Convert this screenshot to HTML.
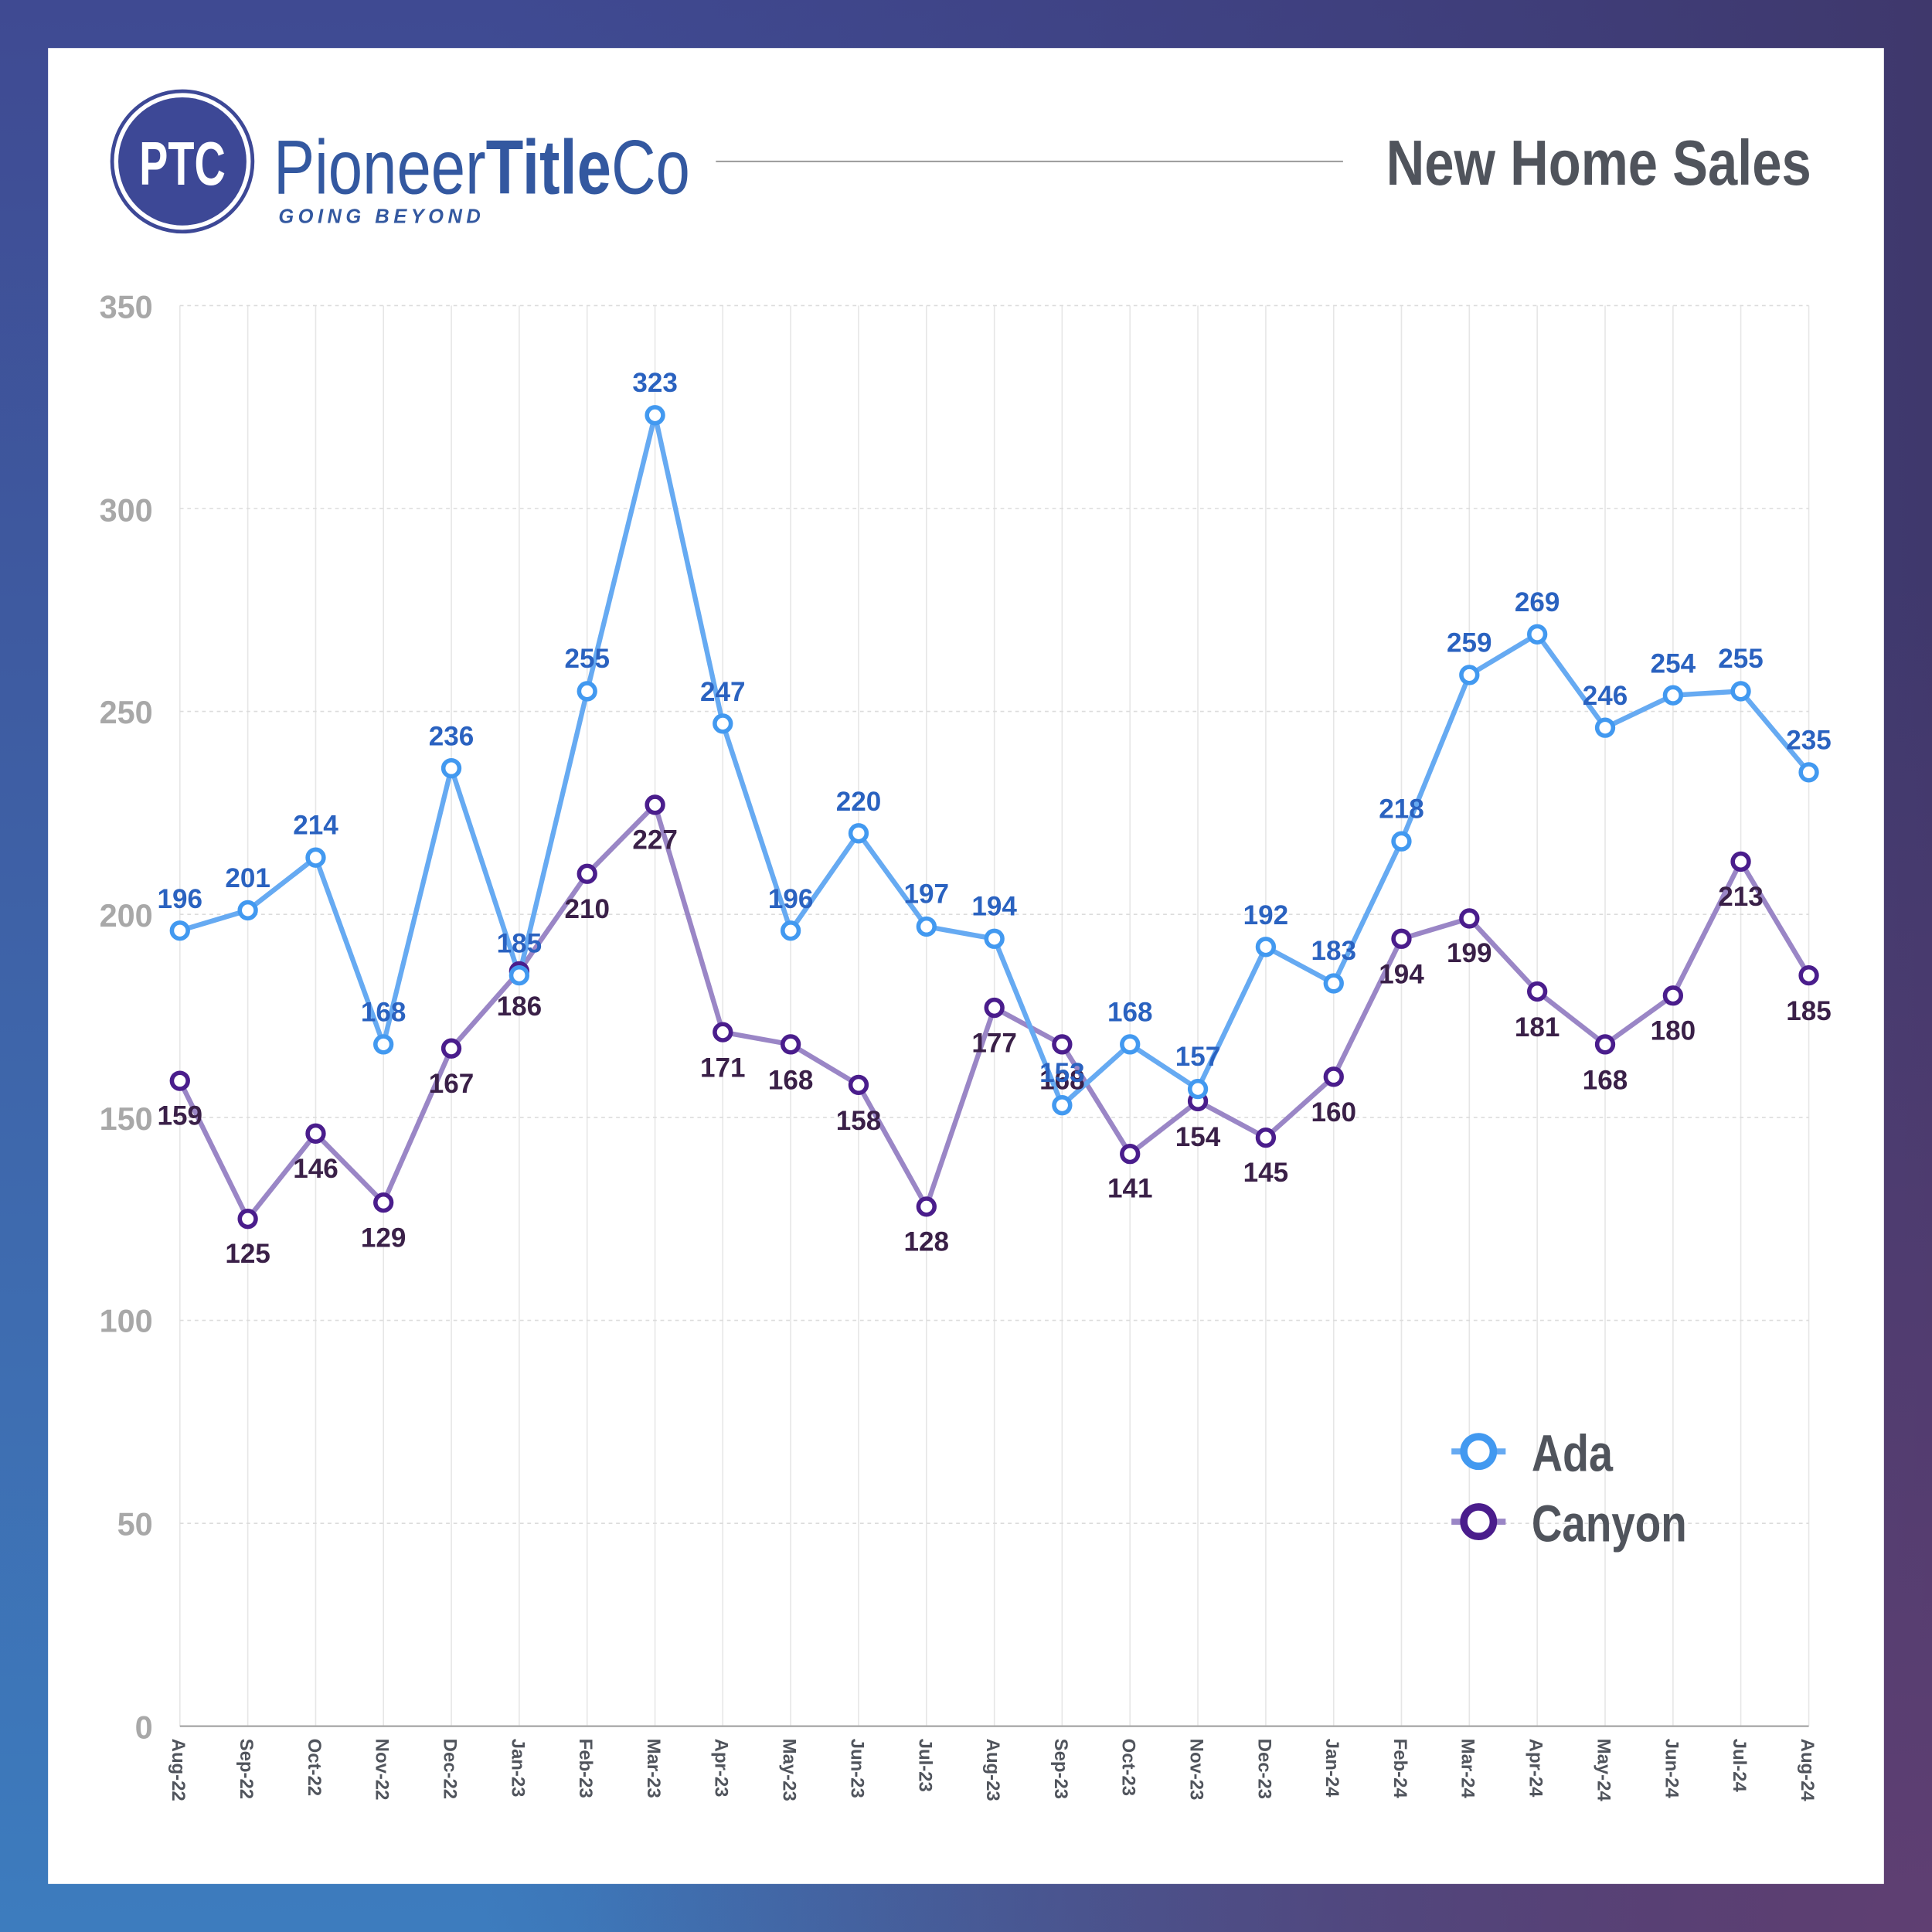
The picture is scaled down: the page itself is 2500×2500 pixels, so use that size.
<!DOCTYPE html>
<html><head><meta charset="utf-8"><style>
html,body{margin:0;padding:0;width:2500px;height:2500px;overflow:hidden}
svg{display:block}
text{font-family:"Liberation Sans Narrow","Liberation Sans",sans-serif;font-weight:bold}
</style></head><body>
<svg width="2500" height="2500" viewBox="0 0 1568 1568" xmlns="http://www.w3.org/2000/svg">
<defs>
<linearGradient id="bg1" x1="0" y1="0" x2="0" y2="1"><stop offset="0" stop-color="#3f4a92"/><stop offset="1" stop-color="#3d7cbe"/></linearGradient>
<linearGradient id="bg2" x1="0" y1="0" x2="1" y2="0"><stop offset="0.25" stop-color="#3e3a78" stop-opacity="0"/><stop offset="1" stop-color="#3f386c" stop-opacity="1"/></linearGradient>
<radialGradient id="bg3" cx="1" cy="1" r="0.7"><stop offset="0" stop-color="#5f3f72" stop-opacity="1"/><stop offset="1" stop-color="#5f3f72" stop-opacity="0"/></radialGradient>
</defs>
<rect width="1568" height="1568" fill="url(#bg1)"/>
<rect width="1568" height="1568" fill="url(#bg2)"/>
<rect width="1568" height="1568" fill="url(#bg3)"/>
<rect x="39" y="39" width="1490" height="1490" fill="#fff"/>

<!-- logo -->
<circle cx="148" cy="131" r="57" fill="none" stroke="#3d4896" stroke-width="3"/>
<circle cx="148" cy="131" r="52" fill="#3d4896"/>
<text x="148" y="150" font-size="50" fill="#fff" text-anchor="middle" textLength="70" lengthAdjust="spacingAndGlyphs">PTC</text>
<text x="222" y="157" font-size="62" fill="#3358a0" textLength="338" lengthAdjust="spacingAndGlyphs"><tspan font-weight="normal">Pioneer</tspan><tspan>Title</tspan><tspan font-weight="normal">Co</tspan></text>
<text x="226" y="181" font-size="16" fill="#3358a0" font-style="italic" font-weight="normal" textLength="164" lengthAdjust="spacing">GOING BEYOND</text>
<line x1="581" y1="131" x2="1090" y2="131" stroke="#9a9a9a" stroke-width="1.2"/>
<text x="1470" y="150" font-size="52" fill="#50545c" text-anchor="end" textLength="345" lengthAdjust="spacingAndGlyphs">New Home Sales</text>

<!-- grid -->
<g stroke="#e6e6e6" stroke-width="1">
<line x1="146" y1="248" x2="146" y2="1401"/><line x1="201.1" y1="248" x2="201.1" y2="1401"/><line x1="256.2" y1="248" x2="256.2" y2="1401"/><line x1="311.2" y1="248" x2="311.2" y2="1401"/><line x1="366.3" y1="248" x2="366.3" y2="1401"/><line x1="421.4" y1="248" x2="421.4" y2="1401"/><line x1="476.5" y1="248" x2="476.5" y2="1401"/><line x1="531.6" y1="248" x2="531.6" y2="1401"/><line x1="586.6" y1="248" x2="586.6" y2="1401"/><line x1="641.7" y1="248" x2="641.7" y2="1401"/><line x1="696.8" y1="248" x2="696.8" y2="1401"/><line x1="751.9" y1="248" x2="751.9" y2="1401"/><line x1="807" y1="248" x2="807" y2="1401"/><line x1="862" y1="248" x2="862" y2="1401"/><line x1="917.1" y1="248" x2="917.1" y2="1401"/><line x1="972.2" y1="248" x2="972.2" y2="1401"/><line x1="1027.3" y1="248" x2="1027.3" y2="1401"/><line x1="1082.4" y1="248" x2="1082.4" y2="1401"/><line x1="1137.4" y1="248" x2="1137.4" y2="1401"/><line x1="1192.5" y1="248" x2="1192.5" y2="1401"/><line x1="1247.6" y1="248" x2="1247.6" y2="1401"/><line x1="1302.7" y1="248" x2="1302.7" y2="1401"/><line x1="1357.8" y1="248" x2="1357.8" y2="1401"/><line x1="1412.8" y1="248" x2="1412.8" y2="1401"/><line x1="1468" y1="248" x2="1468" y2="1401"/>
</g>
<g stroke="#dcdcdc" stroke-width="1" stroke-dasharray="3,3">
<line x1="146" y1="248" x2="1468" y2="248"/><line x1="146" y1="412.7" x2="1468" y2="412.7"/><line x1="146" y1="577.4" x2="1468" y2="577.4"/><line x1="146" y1="742.1" x2="1468" y2="742.1"/><line x1="146" y1="906.9" x2="1468" y2="906.9"/><line x1="146" y1="1071.6" x2="1468" y2="1071.6"/><line x1="146" y1="1236.3" x2="1468" y2="1236.3"/>
</g>
<line x1="146" y1="1401" x2="1468" y2="1401" stroke="#aaa" stroke-width="1.5"/>

<g font-size="26" fill="#a8a8a8" text-anchor="end">
<text x="124" y="258">350</text><text x="124" y="423">300</text><text x="124" y="587">250</text><text x="124" y="752">200</text><text x="124" y="917">150</text><text x="124" y="1081">100</text><text x="124" y="1246">50</text><text x="124" y="1411">0</text>
</g>

<g font-size="15" fill="#50545c">
<text transform="translate(140,1411) rotate(90)">Aug-22</text>
<text transform="translate(195.1,1411) rotate(90)">Sep-22</text>
<text transform="translate(250.2,1411) rotate(90)">Oct-22</text>
<text transform="translate(305.2,1411) rotate(90)">Nov-22</text>
<text transform="translate(360.3,1411) rotate(90)">Dec-22</text>
<text transform="translate(415.4,1411) rotate(90)">Jan-23</text>
<text transform="translate(470.5,1411) rotate(90)">Feb-23</text>
<text transform="translate(525.6,1411) rotate(90)">Mar-23</text>
<text transform="translate(580.6,1411) rotate(90)">Apr-23</text>
<text transform="translate(635.7,1411) rotate(90)">May-23</text>
<text transform="translate(690.8,1411) rotate(90)">Jun-23</text>
<text transform="translate(745.9,1411) rotate(90)">Jul-23</text>
<text transform="translate(801,1411) rotate(90)">Aug-23</text>
<text transform="translate(856,1411) rotate(90)">Sep-23</text>
<text transform="translate(911.1,1411) rotate(90)">Oct-23</text>
<text transform="translate(966.2,1411) rotate(90)">Nov-23</text>
<text transform="translate(1021.3,1411) rotate(90)">Dec-23</text>
<text transform="translate(1076.4,1411) rotate(90)">Jan-24</text>
<text transform="translate(1131.4,1411) rotate(90)">Feb-24</text>
<text transform="translate(1186.5,1411) rotate(90)">Mar-24</text>
<text transform="translate(1241.6,1411) rotate(90)">Apr-24</text>
<text transform="translate(1296.7,1411) rotate(90)">May-24</text>
<text transform="translate(1351.8,1411) rotate(90)">Jun-24</text>
<text transform="translate(1406.8,1411) rotate(90)">Jul-24</text>
<text transform="translate(1462,1411) rotate(90)">Aug-24</text>
</g>

<!-- Canyon -->
<polyline fill="none" stroke="#9a86c6" stroke-width="4" stroke-linejoin="round" points="146,877.2 201.1,989.2 256.2,920 311.2,976 366.3,850.9 421.4,788.3 476.5,709.2 531.6,653.2 586.6,837.7 641.7,847.6 696.8,880.5 751.9,979.3 807,817.9 862,847.6 917.1,936.5 972.2,893.7 1027.3,923.3 1082.4,873.9 1137.4,761.9 1192.5,745.4 1247.6,804.7 1302.7,847.6 1357.8,808 1412.8,699.3 1468,791.6"/>
<!-- Ada -->
<polyline fill="none" stroke="#66aaf2" stroke-width="4" stroke-linejoin="round" points="146,755.3 201.1,738.8 256.2,696 311.2,847.6 366.3,623.5 421.4,791.6 476.5,561 531.6,337 586.6,587.3 641.7,755.3 696.8,676.3 751.9,752 807,761.9 862,897 917.1,847.6 972.2,883.8 1027.3,768.5 1082.4,798.1 1137.4,682.8 1192.5,547.8 1247.6,514.8 1302.7,590.6 1357.8,564.3 1412.8,561 1468,626.8"/>

<g fill="#fff" stroke="#4a1d8c" stroke-width="3.5">
<circle cx="146" cy="877.2" r="6.5"/><circle cx="201.1" cy="989.2" r="6.5"/><circle cx="256.2" cy="920" r="6.5"/><circle cx="311.2" cy="976" r="6.5"/><circle cx="366.3" cy="850.9" r="6.5"/><circle cx="421.4" cy="788.3" r="6.5"/><circle cx="476.5" cy="709.2" r="6.5"/><circle cx="531.6" cy="653.2" r="6.5"/><circle cx="586.6" cy="837.7" r="6.5"/><circle cx="641.7" cy="847.6" r="6.5"/><circle cx="696.8" cy="880.5" r="6.5"/><circle cx="751.9" cy="979.3" r="6.5"/><circle cx="807" cy="817.9" r="6.5"/><circle cx="862" cy="847.6" r="6.5"/><circle cx="917.1" cy="936.5" r="6.5"/><circle cx="972.2" cy="893.7" r="6.5"/><circle cx="1027.3" cy="923.3" r="6.5"/><circle cx="1082.4" cy="873.9" r="6.5"/><circle cx="1137.4" cy="761.9" r="6.5"/><circle cx="1192.5" cy="745.4" r="6.5"/><circle cx="1247.6" cy="804.7" r="6.5"/><circle cx="1302.7" cy="847.6" r="6.5"/><circle cx="1357.8" cy="808" r="6.5"/><circle cx="1412.8" cy="699.3" r="6.5"/><circle cx="1468" cy="791.6" r="6.5"/>
</g>
<g fill="#fff" stroke="#4299f0" stroke-width="3.5">
<circle cx="146" cy="755.3" r="6.5"/><circle cx="201.1" cy="738.8" r="6.5"/><circle cx="256.2" cy="696" r="6.5"/><circle cx="311.2" cy="847.6" r="6.5"/><circle cx="366.3" cy="623.5" r="6.5"/><circle cx="421.4" cy="791.6" r="6.5"/><circle cx="476.5" cy="561" r="6.5"/><circle cx="531.6" cy="337" r="6.5"/><circle cx="586.6" cy="587.3" r="6.5"/><circle cx="641.7" cy="755.3" r="6.5"/><circle cx="696.8" cy="676.3" r="6.5"/><circle cx="751.9" cy="752" r="6.5"/><circle cx="807" cy="761.9" r="6.5"/><circle cx="862" cy="897" r="6.5"/><circle cx="917.1" cy="847.6" r="6.5"/><circle cx="972.2" cy="883.8" r="6.5"/><circle cx="1027.3" cy="768.5" r="6.5"/><circle cx="1082.4" cy="798.1" r="6.5"/><circle cx="1137.4" cy="682.8" r="6.5"/><circle cx="1192.5" cy="547.8" r="6.5"/><circle cx="1247.6" cy="514.8" r="6.5"/><circle cx="1302.7" cy="590.6" r="6.5"/><circle cx="1357.8" cy="564.3" r="6.5"/><circle cx="1412.8" cy="561" r="6.5"/><circle cx="1468" cy="626.8" r="6.5"/>
</g>

<g font-size="22" fill="#3a2048" text-anchor="middle">
<text x="146" y="913">159</text><text x="201.1" y="1025">125</text><text x="256.2" y="956">146</text><text x="311.2" y="1012">129</text><text x="366.3" y="887">167</text><text x="421.4" y="824">186</text><text x="476.5" y="745">210</text><text x="531.6" y="689">227</text><text x="586.6" y="874">171</text><text x="641.7" y="884">168</text><text x="696.8" y="917">158</text><text x="751.9" y="1015">128</text><text x="807" y="854">177</text><text x="862" y="884">168</text><text x="917.1" y="972">141</text><text x="972.2" y="930">154</text><text x="1027.3" y="959">145</text><text x="1082.4" y="910">160</text><text x="1137.4" y="798">194</text><text x="1192.5" y="781">199</text><text x="1247.6" y="841">181</text><text x="1302.7" y="884">168</text><text x="1357.8" y="844">180</text><text x="1412.8" y="735">213</text><text x="1468" y="828">185</text>
</g>
<g font-size="22" fill="#2a62c0" text-anchor="middle">
<text x="146" y="737">196</text><text x="201.1" y="720">201</text><text x="256.2" y="677">214</text><text x="311.2" y="829">168</text><text x="366.3" y="605">236</text><text x="421.4" y="773">185</text><text x="476.5" y="542">255</text><text x="531.6" y="318">323</text><text x="586.6" y="569">247</text><text x="641.7" y="737">196</text><text x="696.8" y="658">220</text><text x="751.9" y="733">197</text><text x="807" y="743">194</text><text x="862" y="878">153</text><text x="917.1" y="829">168</text><text x="972.2" y="865">157</text><text x="1027.3" y="750">192</text><text x="1082.4" y="779">183</text><text x="1137.4" y="664">218</text><text x="1192.5" y="529">259</text><text x="1247.6" y="496">269</text><text x="1302.7" y="572">246</text><text x="1357.8" y="546">254</text><text x="1412.8" y="542">255</text><text x="1468" y="608">235</text>
</g>

<!-- legend -->
<line x1="1178" y1="1178" x2="1222" y2="1178" stroke="#66aaf2" stroke-width="5"/>
<circle cx="1200" cy="1178" r="12" fill="#fff" stroke="#4299f0" stroke-width="6"/>
<text x="1243" y="1194" font-size="42" fill="#50545c" textLength="66" lengthAdjust="spacingAndGlyphs">Ada</text>
<line x1="1178" y1="1235" x2="1222" y2="1235" stroke="#9a86c6" stroke-width="5"/>
<circle cx="1200" cy="1235" r="12" fill="#fff" stroke="#4a1d8c" stroke-width="6"/>
<text x="1243" y="1251" font-size="42" fill="#50545c" textLength="126" lengthAdjust="spacingAndGlyphs">Canyon</text>
</svg>
</body></html>
